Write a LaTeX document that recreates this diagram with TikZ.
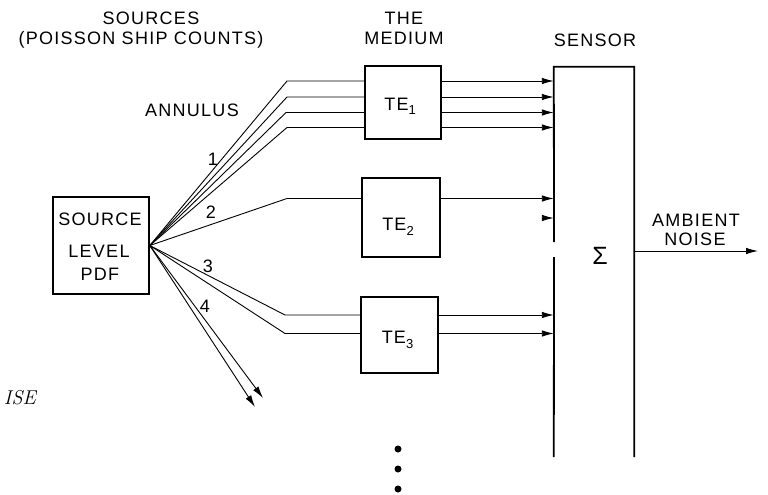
\documentclass[tikz,border=0pt]{standalone}
\usepackage{fontspec}
\setsansfont{Liberation Sans}[LetterSpace=7]
\usetikzlibrary{arrows.meta,calc}
\newcommand\labfont{\fontsize{18}{20}\selectfont\sffamily}
\newcommand\subfont{\fontsize{13}{13}\selectfont\sffamily}
\begin{document}
\begin{tikzpicture}[x=1pt,y=-1pt,
  lab/.style={font=\labfont, inner sep=0pt, anchor=base},
  blk/.style={draw, line width=1.6pt, inner sep=0pt},
  wire/.style={line width=0.9pt},
  arr/.style={wire, -{Latex[length=12pt,width=6.5pt]}},
  senline/.style={line width=1.8pt},
  dot/.style={circle, fill, inner sep=0pt, minimum size=7pt}]
\useasboundingbox (0,0) rectangle (768,495);

% headings
\node[lab] (h1) at (151,25) {SOURCES};
\node[lab] (h2) at (141,45) {(POISSON SHIP COUNTS)};
\node[lab] (h3) at (404,25) {THE};
\node[lab] (h4) at (404,45) {MEDIUM};
\node[lab] (h5) at (595,47) {SENSOR};
\node[lab] (ann) at (192,116) {ANNULUS};

% source box
\node[blk, minimum width=96pt, minimum height=97pt] (src) at (101,245.5) {};
\node[lab] (s1) at (100,225) {SOURCE};
\node[lab] (s2) at (99,257) {LEVEL};
\node[lab] (s3) at (100,280) {PDF};

% medium boxes
\node[blk, minimum width=76pt, minimum height=73pt] (te1) at (403,102.5) {};
\node[blk, minimum width=78pt, minimum height=79pt] (te2) at (401,217.5) {};
\node[blk, minimum width=77pt, minimum height=76pt] (te3) at (399.5,335) {};
\node[lab] (l1) at (400,110) {TE\raisebox{-5pt}{\subfont 1}};
\node[lab] (l2) at (398,230) {TE\raisebox{-5pt}{\subfont 2}};
\node[lab] (l3) at (397.5,343) {TE\raisebox{-5pt}{\subfont 3}};

% sensor
\node[minimum width=80pt, minimum height=390pt, inner sep=0pt] (sens) at (594,262) {};
\coordinate (gapA) at (554,242);
\coordinate (gapB) at (554,257);
\draw[senline] (gapA) -- (sens.north west) -- (sens.north east) -- (sens.south east);
\draw[senline] (gapB) -- (sens.south west);
\node[font=\fontsize{25}{25}\selectfont\sffamily, inner sep=0pt] (sig) at (600,256) {Σ};

% kinks
\coordinate (k1) at (287,81);
\coordinate (k2) at (287,97);
\coordinate (k3) at (286,112.5);
\coordinate (k4) at (287,127.5);
\coordinate (k5) at (287,198.5);
\coordinate (k6) at (285,315);
\coordinate (k7) at (285,333.5);
\coordinate (a4) at (263,398);
\coordinate (a5) at (255,407);

% fan
\foreach \k in {k1,k2,k3,k4}
  \draw[wire] (src.east) -- (\k) -- (\k -| te1.west);
\draw[wire] (src.east) -- (k5) -- (k5 -| te2.west);
\draw[wire] (src.east) -- (k6) -- (k6 -| te3.west);
\draw[wire] (src.east) -- (k7) -- (k7 -| te3.west);
\draw[arr] (src.east) -- (a4);
\draw[arr] (src.east) -- (a5);

% outputs to sensor
\foreach \k in {k1,k2,k3,k4}
  \draw[arr] (\k -| te1.east) -- (\k -| sens.west);
\draw[arr] (k5 -| te2.east) -- (k5 -| sens.west);
\coordinate (stub) at (542,218);
\draw[arr] (stub) -- (stub -| sens.west);
\draw[arr] (k6 -| te3.east) -- (k6 -| sens.west);
\draw[arr] (k7 -| te3.east) -- (k7 -| sens.west);

% annulus numbers
\node[lab] (n1) at (213,165) {1};
\node[lab] (n2) at (211,218) {2};
\node[lab] (n3) at (208,272) {3};
\node[lab] (n4) at (205,312) {4};

% output
\coordinate (outT) at (758,251);
\draw[arr] (outT -| sens.east) -- (outT);
\node[lab] (amb1) at (696,226) {AMBIENT};
\node[lab] (amb2) at (695,245) {NOISE};

% dots
\node[dot] (d1) at (398,449) {};
\node[dot] (d2) at (398,469) {};
\node[dot] (d3) at (398,489) {};

% text fragment at left edge
\node[font=\fontsize{20}{20}\selectfont\rmfamily\itshape, anchor=base east, inner sep=0pt] (noise) at (36,404) {ISE};
\end{tikzpicture}
\end{document}
